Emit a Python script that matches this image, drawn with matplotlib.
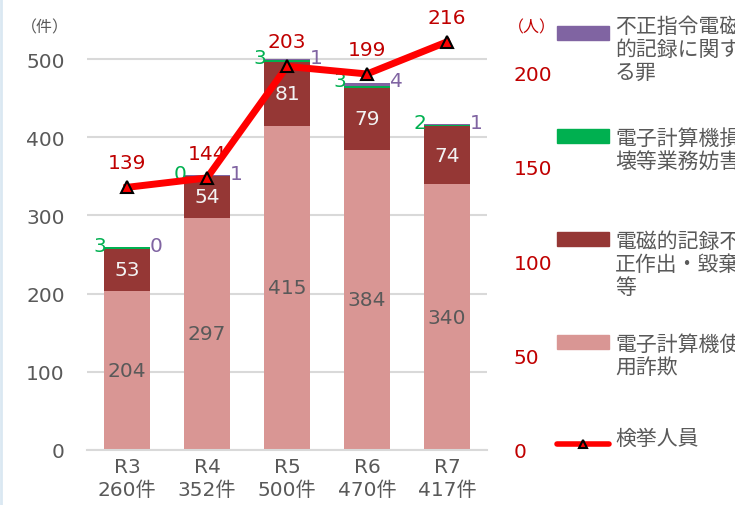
import matplotlib
import matplotlib.pyplot as plt
from matplotlib.lines import Line2D
from matplotlib.patches import Rectangle

matplotlib.use('Agg')

plt.rcParams['font.family'] = ['DejaVu Sans', 'Noto Sans CJK JP']

# data
years = ['R3', 'R4', 'R5', 'R6', 'R7']
totals = [260, 352, 500, 470, 417]
fraud = [204, 297, 415, 384, 340]          # 電子計算機使用詐欺
records = [53, 54, 81, 79, 74]             # 電磁的記録不正作出・毀棄等
damage = [3, 0, 3, 3, 2]                   # 電子計算機損壊等業務妨害
virus = [0, 1, 1, 4, 1]                    # 不正指令電磁的記録に関する罪
arrests = [139, 144, 203, 199, 216]        # 検挙人員

legend_labels = ['不正指令電磁\n的記録に関す\nる罪', '電子計算機損\n壊等業務妨害',
                 '電磁的記録不\n正作出・毀棄\n等', '電子計算機使\n用詐欺', '検挙人員']

c_fraud = '#D99694'
c_records = '#953735'
c_damage = '#00B050'
c_virus = '#8064A2'
c_line = '#FF0000'
c_label = '#C00000'
c_text = '#595959'

fig = plt.figure(figsize=(7.35, 5.06), dpi=100)
ax = fig.add_axes([87 / 735, 1 - 451 / 506, 400 / 735, 430 / 506])

x = list(range(len(years)))
w = 0.575
b1 = fraud
b2 = [a + b for a, b in zip(b1, records)]
b3 = [a + b for a, b in zip(b2, damage)]

ax.bar(x, fraud, w, color=c_fraud, zorder=2)
ax.bar(x, records, w, bottom=b1, color=c_records, zorder=2)
ax.bar(x, damage, w, bottom=b2, color=c_damage, zorder=2)
ax.bar(x, virus, w, bottom=b3, color=c_virus, zorder=2)

fs = 14.5
for i in x:
    ax.text(i, fraud[i] / 2, str(fraud[i]), ha='center', va='center',
            fontsize=fs, color=c_text, zorder=3)
    ax.text(i, b1[i] + records[i] / 2, str(records[i]), ha='center', va='center',
            fontsize=fs, color='#F2F2F2', zorder=3)
    ax.text(i - w / 2 - 0.05, totals[i] + 2, str(damage[i]), ha='center', va='center',
            fontsize=fs, color=c_damage, zorder=3)
    ax.text(i + w / 2 + 0.08, totals[i] + 2, str(virus[i]), ha='center', va='center',
            fontsize=fs, color=c_virus, zorder=3)

ax.set_xlim(-0.5, len(years) - 0.5)
ax.set_ylim(0, 550)
ax.set_yticks(range(0, 501, 100))
ax.set_xticks(x)
ax.set_xticklabels([f'{y}\n{t}件' for y, t in zip(years, totals)],
                   fontsize=fs, color=c_text, linespacing=1.25)
ax.tick_params(axis='y', labelsize=fs, labelcolor=c_text, length=0, pad=16)
ax.tick_params(axis='x', length=0, pad=5)
ax.grid(axis='y', color='#D9D9D9', linewidth=1.5, zorder=0)
for s in ['left', 'right', 'top']:
    ax.spines[s].set_visible(False)
ax.spines['bottom'].set_color('#D9D9D9')
ax.spines['bottom'].set_linewidth(1.5)

# right axis for arrests
ax2 = ax.twinx()
ax2.set_ylim(0, 550 * 0.782 / 1.89)
ax2.set_yticks(range(0, 201, 50))
ax2.tick_params(axis='y', labelsize=fs, labelcolor=c_label, length=0, pad=19)
for s in ['left', 'right', 'top', 'bottom']:
    ax2.spines[s].set_visible(False)
ax2.plot(x, arrests, color=c_line, linewidth=5, marker='^', markersize=9,
         markerfacecolor=c_line, markeredgecolor='black', markeredgewidth=1.5,
         zorder=5, clip_on=False)
for i in x:
    ax2.annotate(str(arrests[i]), (i, arrests[i]), xytext=(0, 11),
                 textcoords='offset points', ha='center', va='bottom',
                 fontsize=fs, color=c_label, annotation_clip=False)

fig.text(45 / 735, 1 - 28 / 506, '（件）', fontsize=11.5, color=c_text,
         ha='center', va='center', family='Noto Sans CJK JP')
fig.text(532 / 735, 1 - 28 / 506, '（人）', fontsize=11.5, color=c_label,
         ha='center', va='center', family='Noto Sans CJK JP')

# legend drawn by hand on the right
patch_y = [34, 137, 240, 343]
text_y = [16, 128, 231, 334]
colors = [c_virus, c_damage, c_records, c_fraud]
for py, ty, col, lab in zip(patch_y, text_y, colors, legend_labels):
    fig.add_artist(Rectangle((557 / 735, 1 - (py + 7) / 506), 52 / 735, 14 / 506,
                             color=col, transform=fig.transFigure))
    fig.text(615 / 735, 1 - ty / 506, lab, fontsize=15, color=c_text, ha='left',
             va='top', linespacing=1.05, family='Noto Sans CJK JP')
fig.add_artist(Line2D([557 / 735, 609 / 735], [1 - 445 / 506] * 2, color=c_line,
                      linewidth=4, solid_capstyle='round', transform=fig.transFigure))
fig.add_artist(Line2D([583 / 735], [1 - 445 / 506], marker='^', markersize=6,
                      markerfacecolor=c_line, markeredgecolor='black',
                      markeredgewidth=1.5, transform=fig.transFigure))
fig.text(615 / 735, 1 - 428 / 506, legend_labels[4], fontsize=15, color=c_text,
         ha='left', va='top', family='Noto Sans CJK JP')

fig.add_artist(Line2D([0.002, 0.002], [0, 1], color='#DAE8F2', linewidth=2,
                      transform=fig.transFigure))

fig.savefig('out.png', dpi=100)
